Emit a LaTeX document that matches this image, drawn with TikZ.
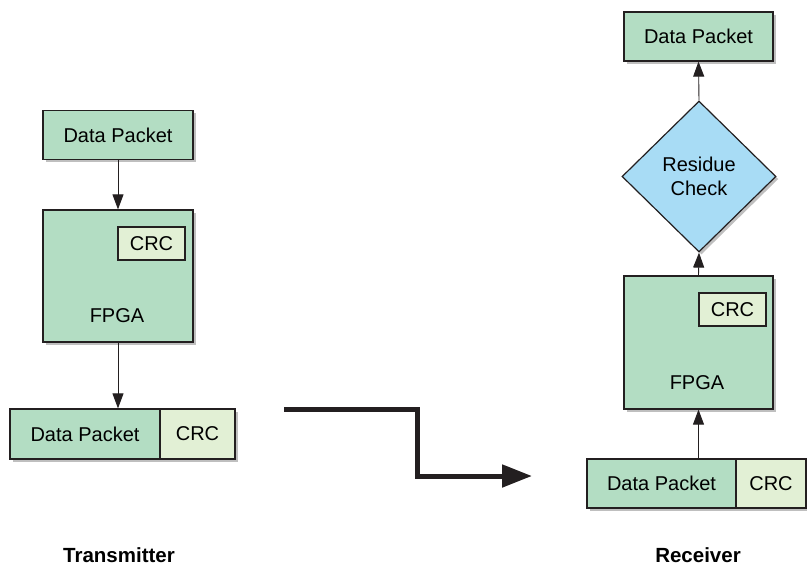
\documentclass[tikz,border=0pt]{standalone}
\usepackage{fontspec}
\setmainfont{Liberation Sans}
\usetikzlibrary{shapes.geometric,arrows.meta,shadows}
\definecolor{boxgreen}{RGB}{179,221,195}
\definecolor{crcgreen}{RGB}{226,240,213}
\definecolor{diablue}{RGB}{168,220,245}
\definecolor{edge}{RGB}{35,31,32}
\tikzset{
  shad/.style={drop shadow={shadow xshift=2.5pt,shadow yshift=-2.5pt,fill=black,opacity=0.25}},
  gbox/.style={rectangle,draw=edge,line width=1.2pt,fill=boxgreen,inner sep=0pt,font=\fontsize{20}{23}\selectfont},
  cbox/.style={rectangle,draw=edge,line width=1.2pt,fill=crcgreen,inner sep=0pt,font=\fontsize{20}{23}\selectfont},
  dbox/.style={diamond,draw=edge,line width=1.2pt,fill=diablue,inner sep=0pt,aspect=1,align=center,font=\fontsize{20}{23.5}\selectfont},
  txt/.style={inner sep=0pt,font=\fontsize{20}{23}\selectfont},
  lbl/.style={inner sep=0pt,font=\fontsize{20.5}{23}\selectfont\bfseries,anchor=base},
  conn/.style={line width=0.9pt,draw=edge,-{Triangle[length=15pt,width=11pt]}},
  bigarrow/.style={line width=5pt,draw=edge,-{Triangle[length=30pt,width=22pt]}}
}
\begin{document}
\begin{tikzpicture}[x=1pt,y=-1pt]
\useasboundingbox (0,0) rectangle (807,566);
% Transmitter
\node[gbox,shad,minimum width=150,minimum height=49] (dpL) at (118,135) {Data Packet};
\node[gbox,shad,minimum width=150,minimum height=132] (fpgaL) at (118,276) {};
\node[cbox,minimum width=67,minimum height=33] (crcL) at (151.5,243.5) {CRC};
\node[txt] (fpgaLt) at (117,316) {FPGA};
\node[gbox,shad,minimum width=225,minimum height=50] (pktLbg) at (122.5,434) {};
\node[gbox,minimum width=150,minimum height=50] (pktL) at (85,434) {Data Packet};
\node[cbox,minimum width=75,minimum height=50] (pktLc) at (197.5,434) {CRC};
\draw[conn] (dpL.south) -- (fpgaL.north);
\draw[conn] (fpgaL.south) -- (fpgaL.south |- pktL.north);
% Receiver
\node[gbox,shad,minimum width=149,minimum height=49] (dpR) at (698.5,36.5) {Data Packet};
\node[dbox,shad,minimum width=154,minimum height=151] (chk) at (699,176.5) {Residue\\Check};
\node[gbox,shad,minimum width=149,minimum height=133] (fpgaR) at (698.5,342.5) {};
\node[cbox,minimum width=67,minimum height=33] (crcR) at (732.5,309.5) {CRC};
\node[txt] (fpgaRt) at (697,383) {FPGA};
\node[gbox,shad,minimum width=219,minimum height=49] (pktRbg) at (696.5,483.5) {};
\node[gbox,minimum width=149,minimum height=49] (pktR) at (661.5,483.5) {Data Packet};
\node[cbox,minimum width=70,minimum height=49] (pktRc) at (771,483.5) {CRC};
\draw[conn] (fpgaR.south |- pktR.north) -- (fpgaR.south);
\draw[conn] (fpgaR.north) -- (chk.south);
\draw[conn] (chk.north) -- (dpR.south);
% Channel
\coordinate (z1) at (284,409);
\coordinate (z2) at (532,476);
\draw[bigarrow] (z1) -- (417,409) -- (417,476) -- (z2);
% Labels
\node[lbl] (tx) at (119,562) {Transmitter};
\node[lbl] (rx) at (698,562) {Receiver};
\end{tikzpicture}
\end{document}
